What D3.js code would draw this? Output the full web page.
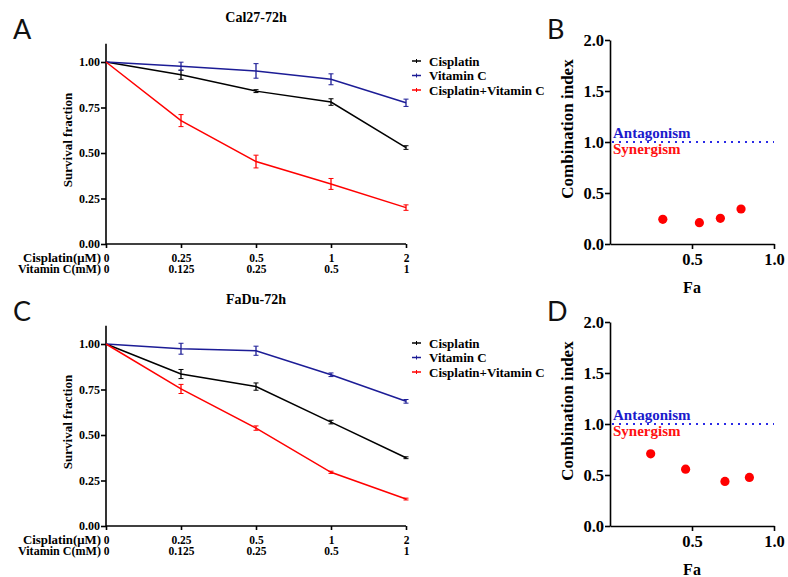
<!DOCTYPE html>
<html><head><meta charset="utf-8">
<script src="https://cdn.jsdelivr.net/npm/d3@7/dist/d3.min.js"></script>
<style>
body{margin:0;background:#fff;}
svg text{font-family:"Liberation Serif","Times New Roman",serif;font-weight:bold;}
</style></head>
<body><svg id="c" width="788" height="577"></svg>
<script>
// ---- data ----
const cisplatinDoses = ["0","0.25","0.5","1","2"];
const vitaminCDoses = ["0","0.125","0.25","0.5","1"];
const seriesNames = ["Cisplatin","Vitamin C","Cisplatin+Vitamin C"];
const seriesColors = ["#000000","#1c1c96","#ff0000"];
const survivalTicks = [0, 0.25, 0.5, 0.75, 1.0];
const ciTicks = [0, 0.5, 1.0, 1.5, 2.0];
const faTicks = [0.5, 1.0];

// Cal27-72h
const cal27Cis  = [1.00, 0.93, 0.84, 0.78, 0.53];
const cal27CisErr = [0, 0.025, 0.008, 0.018, 0.010];
const cal27VitC = [1.00, 0.977, 0.951, 0.905, 0.776];
const cal27VitCErr = [0, 0.022, 0.040, 0.030, 0.020];
const cal27Combo = [1.00, 0.678, 0.453, 0.330, 0.200];
const cal27ComboErr = [0, 0.033, 0.035, 0.030, 0.015];
const cal27Fa = [0.322, 0.545, 0.673, 0.799];
const cal27CI = [0.242, 0.209, 0.252, 0.343];

// FaDu-72h
const fadCis  = [1.00, 0.835, 0.766, 0.571, 0.375];
const fadCisErr = [0, 0.025, 0.020, 0.010, 0.005];
const fadVitC = [1.00, 0.974, 0.963, 0.831, 0.685];
const fadVitCErr = [0, 0.030, 0.025, 0.010, 0.010];
const fadCombo = [1.00, 0.753, 0.538, 0.295, 0.148];
const fadComboErr = [0, 0.025, 0.012, 0.006, 0.005];
const fadFa = [0.248, 0.461, 0.701, 0.850];
const fadCI = [0.708, 0.557, 0.437, 0.476];

const svg = d3.select("#c");

function letter(x, y, t){
  svg.append("text").attr("x",x).attr("y",y).text(t)
    .style("font-family","Lato, 'Open Sans', sans-serif").style("font-weight","400")
    .attr("font-size",27).attr("fill","#111");
}

function survivalPanel(top, title, series, errs){
  const x = d3.scalePoint().domain(cisplatinDoses).range([106,406]);
  const y = d3.scaleLinear().domain([0,1.1]).range([top+244, top+244-182*1.1]);
  const g = svg.append("g");
  g.append("text").attr("x",256).attr("y",top+22).attr("text-anchor","middle")
    .attr("font-size",14).text(title);
  // y axis
  const ya = g.append("g").attr("transform","translate(106,0)")
    .call(d3.axisLeft(y).tickValues(survivalTicks).tickFormat(d3.format(".2f")).tickSize(5).tickPadding(1));
  ya.selectAll("text").attr("font-size",12).attr("fill","#000");
  ya.select(".domain").attr("d",`M0,${y(1.1)}V${y(0)}`);
  ya.selectAll("path,line").attr("stroke","#000").attr("stroke-width",1.6);
  // x axis row 1
  const xa = g.append("g").attr("transform",`translate(0,${y(0)})`)
    .call(d3.axisBottom(x).tickSize(4).tickSizeOuter(0));
  xa.selectAll("text").attr("font-size",11.5).attr("fill","#000").attr("y",18).attr("dy",0);
  xa.selectAll("path,line").attr("stroke","#000").attr("stroke-width",1.6);
  xa.select(".domain").attr("d",`M106,0H406`);
  // x axis row 2
  const xb = g.append("g").attr("transform",`translate(0,${y(0)})`)
    .call(d3.axisBottom(x).tickFormat((d,i)=>vitaminCDoses[i]).tickSize(0));
  xb.select(".domain").remove();
  xb.selectAll("text").attr("font-size",11.5).attr("fill","#000").attr("y",28.5).attr("dy",0);
  g.append("text").attr("x",101).attr("y",y(0)+18).attr("text-anchor","end").attr("font-size",11.5)
    .attr("textLength",78).attr("lengthAdjust","spacingAndGlyphs").text("Cisplatin(μM)");
  g.append("text").attr("x",101).attr("y",y(0)+28.5).attr("text-anchor","end").attr("font-size",11.5)
    .attr("textLength",83).attr("lengthAdjust","spacingAndGlyphs").text("Vitamin C(mM)");
  // y title
  g.append("text").attr("transform",`translate(72,${top+140}) rotate(-90)`).attr("text-anchor","middle")
    .attr("font-size",13).text("Survival fraction");
  // lines
  const line = d3.line().x((d,i)=>x(cisplatinDoses[i])).y(d=>y(d));
  series.forEach((s,k)=>{
    g.append("path").datum(s).attr("d",line).attr("fill","none")
      .attr("stroke",seriesColors[k]).attr("stroke-width",1.5);
    s.forEach((v,i)=>{
      const e = errs[k][i]; if(!e) return;
      const cx = x(cisplatinDoses[i]);
      g.append("line").attr("x1",cx).attr("x2",cx).attr("y1",y(v-e)).attr("y2",y(v+e))
        .attr("stroke",seriesColors[k]).attr("stroke-width",1.3);
      g.append("line").attr("x1",cx-2.5).attr("x2",cx+2.5).attr("y1",y(v-e)).attr("y2",y(v-e))
        .attr("stroke",seriesColors[k]).attr("stroke-width",1);
      g.append("line").attr("x1",cx-2.5).attr("x2",cx+2.5).attr("y1",y(v+e)).attr("y2",y(v+e))
        .attr("stroke",seriesColors[k]).attr("stroke-width",1);
    });
  });
  // legend
  seriesNames.forEach((n,k)=>{
    const ly = top + 61 + k*14.5;
    g.append("line").attr("x1",412).attr("x2",421).attr("y1",ly).attr("y2",ly)
      .attr("stroke",seriesColors[k]).attr("stroke-width",1.5);
    g.append("line").attr("x1",416.5).attr("x2",416.5).attr("y1",ly-2).attr("y2",ly+2)
      .attr("stroke",seriesColors[k]).attr("stroke-width",1);
    g.append("text").attr("x",429).attr("y",ly+4.5).attr("font-size",13).text(n);
  });
}

function ciPanel(top, fa, ci){
  const x = d3.scaleLinear().domain([0,1]).range([610,774]);
  const y = d3.scaleLinear().domain([0,2]).range([top+244, top+40]);
  const g = svg.append("g");
  const ya = g.append("g").attr("transform","translate(610,0)")
    .call(d3.axisLeft(y).tickValues(ciTicks).tickFormat(d3.format(".1f")).tickSize(5).tickPadding(1).tickSizeOuter(0));
  ya.selectAll("text").attr("font-size",16.5).attr("fill","#000");
  ya.selectAll("path,line").attr("stroke","#000").attr("stroke-width",1.6);
  const xa = g.append("g").attr("transform",`translate(0,${y(0)})`)
    .call(d3.axisBottom(x).tickValues(faTicks).tickFormat(d3.format(".1f")).tickSize(5).tickPadding(4).tickSizeOuter(0));
  xa.selectAll("text").attr("font-size",16.5).attr("fill","#000");
  xa.selectAll("path,line").attr("stroke","#000").attr("stroke-width",1.6);
  g.append("text").attr("x",x(0.5)).attr("y",top+293).attr("text-anchor","middle").attr("font-size",16).text("Fa");
  g.append("text").attr("transform",`translate(573,${top+129}) rotate(-90)`).attr("text-anchor","middle")
    .attr("font-size",17).text("Combination index");
  g.append("line").attr("x1",612).attr("x2",774).attr("y1",y(1)).attr("y2",y(1))
    .attr("stroke","#2a2ae6").attr("stroke-width",2).attr("stroke-dasharray","2,5");
  g.append("text").attr("x",613).attr("y",y(1)-4).attr("font-size",15).attr("fill","#1a1acc").text("Antagonism");
  g.append("text").attr("x",613).attr("y",y(1)+12).attr("font-size",15).attr("fill","#ff1010").text("Synergism");
  fa.forEach((f,i)=>{
    g.append("circle").attr("cx",x(f)).attr("cy",y(ci[i])).attr("r",4.6).attr("fill","#ff0000");
  });
}

survivalPanel(0, "Cal27-72h", [cal27Cis, cal27VitC, cal27Combo], [cal27CisErr, cal27VitCErr, cal27ComboErr]);
survivalPanel(282, "FaDu-72h", [fadCis, fadVitC, fadCombo], [fadCisErr, fadVitCErr, fadComboErr]);
ciPanel(0, cal27Fa, cal27CI);
ciPanel(282, fadFa, fadCI);
letter(13, 39, "A");
letter(547, 39, "B");
letter(13, 321, "C");
letter(547, 321, "D");
</script></body></html>
